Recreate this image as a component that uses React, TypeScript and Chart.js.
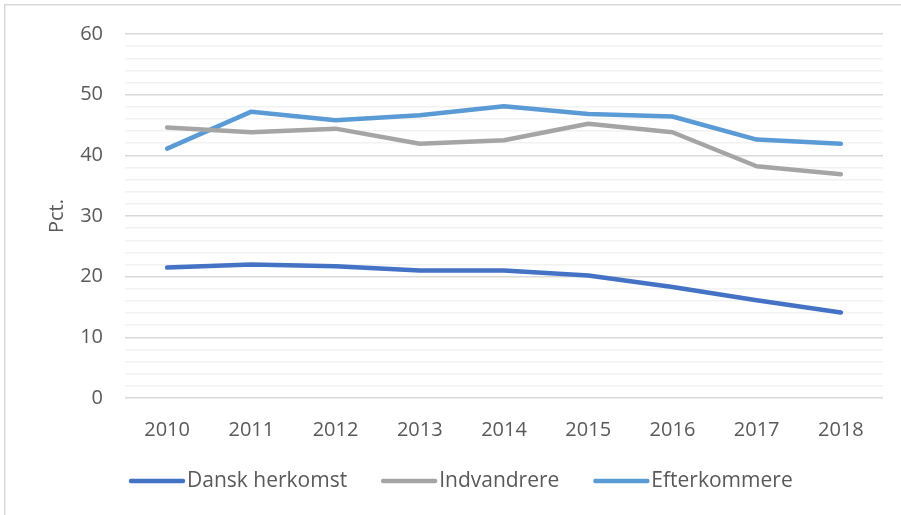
import React, { useEffect, useRef } from "react";
import { Chart, registerables } from "chart.js";

Chart.register(...registerables);

const years = ["2010", "2011", "2012", "2013", "2014", "2015", "2016", "2017", "2018"];
const danskHerkomst = [21.5, 22.0, 21.7, 21.0, 21.0, 20.2, 18.3, 16.1, 14.1];
const indvandrere = [44.6, 43.8, 44.4, 41.9, 42.5, 45.2, 43.8, 38.2, 36.9];
const efterkommere = [41.1, 47.2, 45.8, 46.6, 48.1, 46.8, 46.4, 42.6, 41.9];
const seriesNames = ["Dansk herkomst", "Indvandrere", "Efterkommere"];
const seriesColors = ["#4472C4", "#A5A5A5", "#5B9BD5"];
const yTitle = "Pct.";

const FONT = "'Open Sans', 'DejaVu Sans', sans-serif";
const TEXT = "#595959";
const FS = 20;

const framePlugin = {
  id: "frameAndLegend",
  afterDraw(chart: any) {
    const ctx = chart.ctx;
    ctx.save();
    ctx.strokeStyle = "#D9D9D9";
    ctx.lineWidth = 1.5;
    ctx.beginPath();
    ctx.moveTo(4.75, 520);
    ctx.lineTo(4.75, 4.75);
    ctx.lineTo(905, 4.75);
    ctx.stroke();

    // legend
    ctx.font = `21px ${FONT}`;
    ctx.textBaseline = "middle";
    ctx.textAlign = "left";
    const y = 481;
    let x = 131;
    chart.data.datasets.forEach((ds: any) => {
      ctx.strokeStyle = ds.borderColor;
      ctx.lineWidth = 4.5;
      ctx.lineCap = "round";
      ctx.beginPath();
      ctx.moveTo(x, y);
      ctx.lineTo(x + 52, y);
      ctx.stroke();
      ctx.fillStyle = TEXT;
      const tx = x + 56;
      ctx.fillText(ds.label, tx, y);
      x = tx + ctx.measureText(ds.label).width + 36;
    });
    ctx.restore();
  },
};

export default function App() {
  const ref = useRef<HTMLCanvasElement | null>(null);
  useEffect(() => {
    if (!ref.current) return;
    const datasets = [danskHerkomst, indvandrere, efterkommere].map((d, i) => ({
      label: seriesNames[i],
      data: d,
      borderColor: seriesColors[i],
      backgroundColor: seriesColors[i],
      borderWidth: 4.5,
      pointRadius: 0,
      borderCapStyle: "round" as const,
      borderJoinStyle: "round" as const,
      tension: 0,
    }));
    const chart = new Chart(ref.current, {
      type: "line",
      data: { labels: years, datasets },
      options: {
        animation: false,
        responsive: false,
        maintainAspectRatio: false,
        layout: { padding: { left: 0, right: 18, top: 33, bottom: 0 } },
        plugins: { legend: { display: false }, tooltip: { enabled: false } },
        scales: {
          x: {
            offset: true,
            grid: { display: false },
            border: { display: false },
            ticks: { color: TEXT, font: { family: FONT, size: FS }, padding: 12, maxRotation: 0, autoSkip: false },
            afterFit: (s: any) => {
              s.height = 117;
            },
          },
          y: {
            min: 0,
            max: 60,
            border: { display: false },
            grid: {
              drawTicks: false,
              lineWidth: 1.5,
              color: (c: any) => (c.tick && c.tick.value % 10 === 0 ? "#D9D9D9" : "#F2F2F2"),
            },
            ticks: {
              stepSize: 2,
              autoSkip: false,
              padding: 22,
              color: TEXT,
              font: { family: FONT, size: FS },
              callback: (v: any) => (Number(v) % 10 === 0 ? String(v) : ""),
            },
            title: {
              display: true,
              text: yTitle,
              color: TEXT,
              font: { family: FONT, size: FS },
              padding: { top: 45, bottom: 0 },
            },
            afterFit: (s: any) => {
              s.width = 125;
            },
          },
        },
      },
      plugins: [framePlugin],
    });
    return () => chart.destroy();
  }, []);
  return (
    <div style={{ position: "absolute", left: 0, top: 0, width: 901, height: 515, background: "#fff" }}>
      <canvas ref={ref} width={901} height={515} style={{ display: "block", width: 901, height: 515 }} />
    </div>
  );
}
